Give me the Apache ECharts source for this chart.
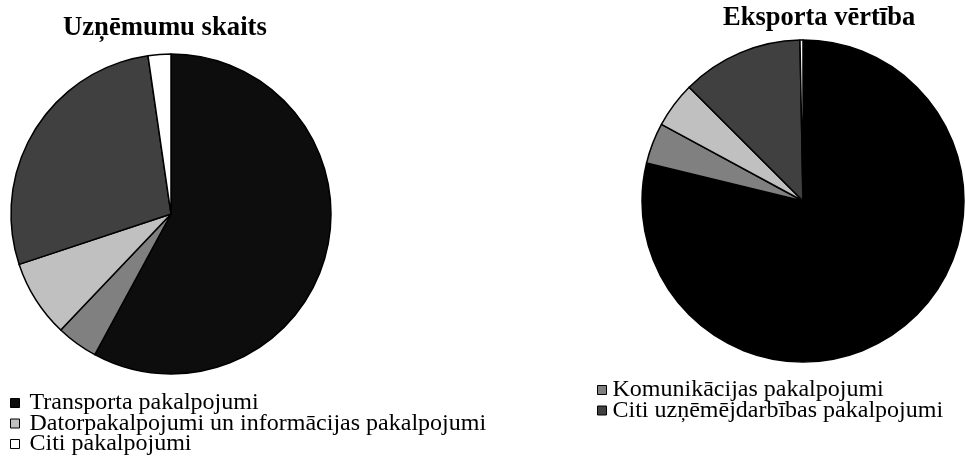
<!DOCTYPE html>
<html>
<head>
<meta charset="utf-8">
<script src="https://cdn.jsdelivr.net/npm/echarts@6/dist/echarts.min.js"></script>
<style>
  html, body { margin: 0; padding: 0; background: #fff; }
  #main { width: 965px; height: 464px; }
</style>
</head>
<body>
<div id="main"></div>
<script>
// nozares (kategorijas)
var nozares = [
    'Transporta pakalpojumi',
    'Komunikācijas pakalpojumi',
    'Datorpakalpojumi un informācijas pakalpojumi',
    'Citi uzņēmējdarbības pakalpojumi',
    'Citi pakalpojumi'
];
// daļas, %
var uznemumuSkaits = [57.9, 4.2, 7.8, 27.8, 2.3];
var eksportaVertiba = [78.8, 4.1, 4.6, 12.2, 0.3];

var legendaKreisa = [nozares[0], nozares[2], nozares[4]];
var legendaLaba = [nozares[1], nozares[3]];

var krasasKreisa = ['#0d0d0d', '#808080', '#c0c0c0', '#404040', '#ffffff'];
var krasasLaba = ['#000000', '#808080', '#c0c0c0', '#404040', '#ffffff'];

var fonts = '"Liberation Serif", "Times New Roman", serif';

function pieData(values, colors) {
    var arr = [];
    for (var i = 0; i < nozares.length; i++) {
        arr.push({ name: nozares[i], value: values[i], itemStyle: { color: colors[i] } });
    }
    return arr;
}

var chart = echarts.init(document.getElementById('main'));

var pieStyle = {
    type: 'pie',
    startAngle: 90,
    clockwise: true,
    label: { show: false },
    labelLine: { show: false },
    silent: true,
    animation: false,
    itemStyle: { borderColor: '#000', borderWidth: 1.5 }
};

var legendCommon = {
    orient: 'vertical',
    icon: 'rect',
    itemWidth: 9,
    itemHeight: 9,
    itemGap: -3.5,
    padding: 0,
    selectedMode: false,
    itemStyle: { borderColor: '#000', borderWidth: 1 },
    textStyle: { fontFamily: fonts, fontSize: 24, color: '#000', lineHeight: 20 }
};

var option = {
    backgroundColor: '#fff',
    animation: false,
    title: [
        {
            text: 'Uzņēmumu skaits',
            left: 63, top: 15, padding: 0,
            textStyle: { fontFamily: fonts, fontSize: 26.7, fontWeight: 'bold', color: '#000' }
        },
        {
            text: 'Eksporta vērtība',
            left: 723, top: 5, padding: 0,
            textStyle: { fontFamily: fonts, fontSize: 26.5, fontWeight: 'bold', color: '#000' }
        }
    ],
    legend: [
        Object.assign({}, legendCommon, {
            left: 10, top: 391,
            data: legendaKreisa,
            textStyle: Object.assign({}, legendCommon.textStyle, { padding: [0, 0, 0, 5] })
        }),
        Object.assign({}, legendCommon, {
            left: 597, top: 378,
            data: legendaLaba,
            textStyle: Object.assign({}, legendCommon.textStyle, { padding: [0, 0, 0, 1] })
        })
    ],
    series: [
        Object.assign({}, pieStyle, {
            name: 'Uzņēmumu skaits',
            center: [171, 214],
            radius: 160,
            data: pieData(uznemumuSkaits, krasasKreisa)
        }),
        Object.assign({}, pieStyle, {
            name: 'Eksporta vērtība',
            center: [803, 201],
            radius: 161,
            data: pieData(eksportaVertiba, krasasLaba)
        })
    ]
};

chart.setOption(option);
</script>
</body>
</html>
